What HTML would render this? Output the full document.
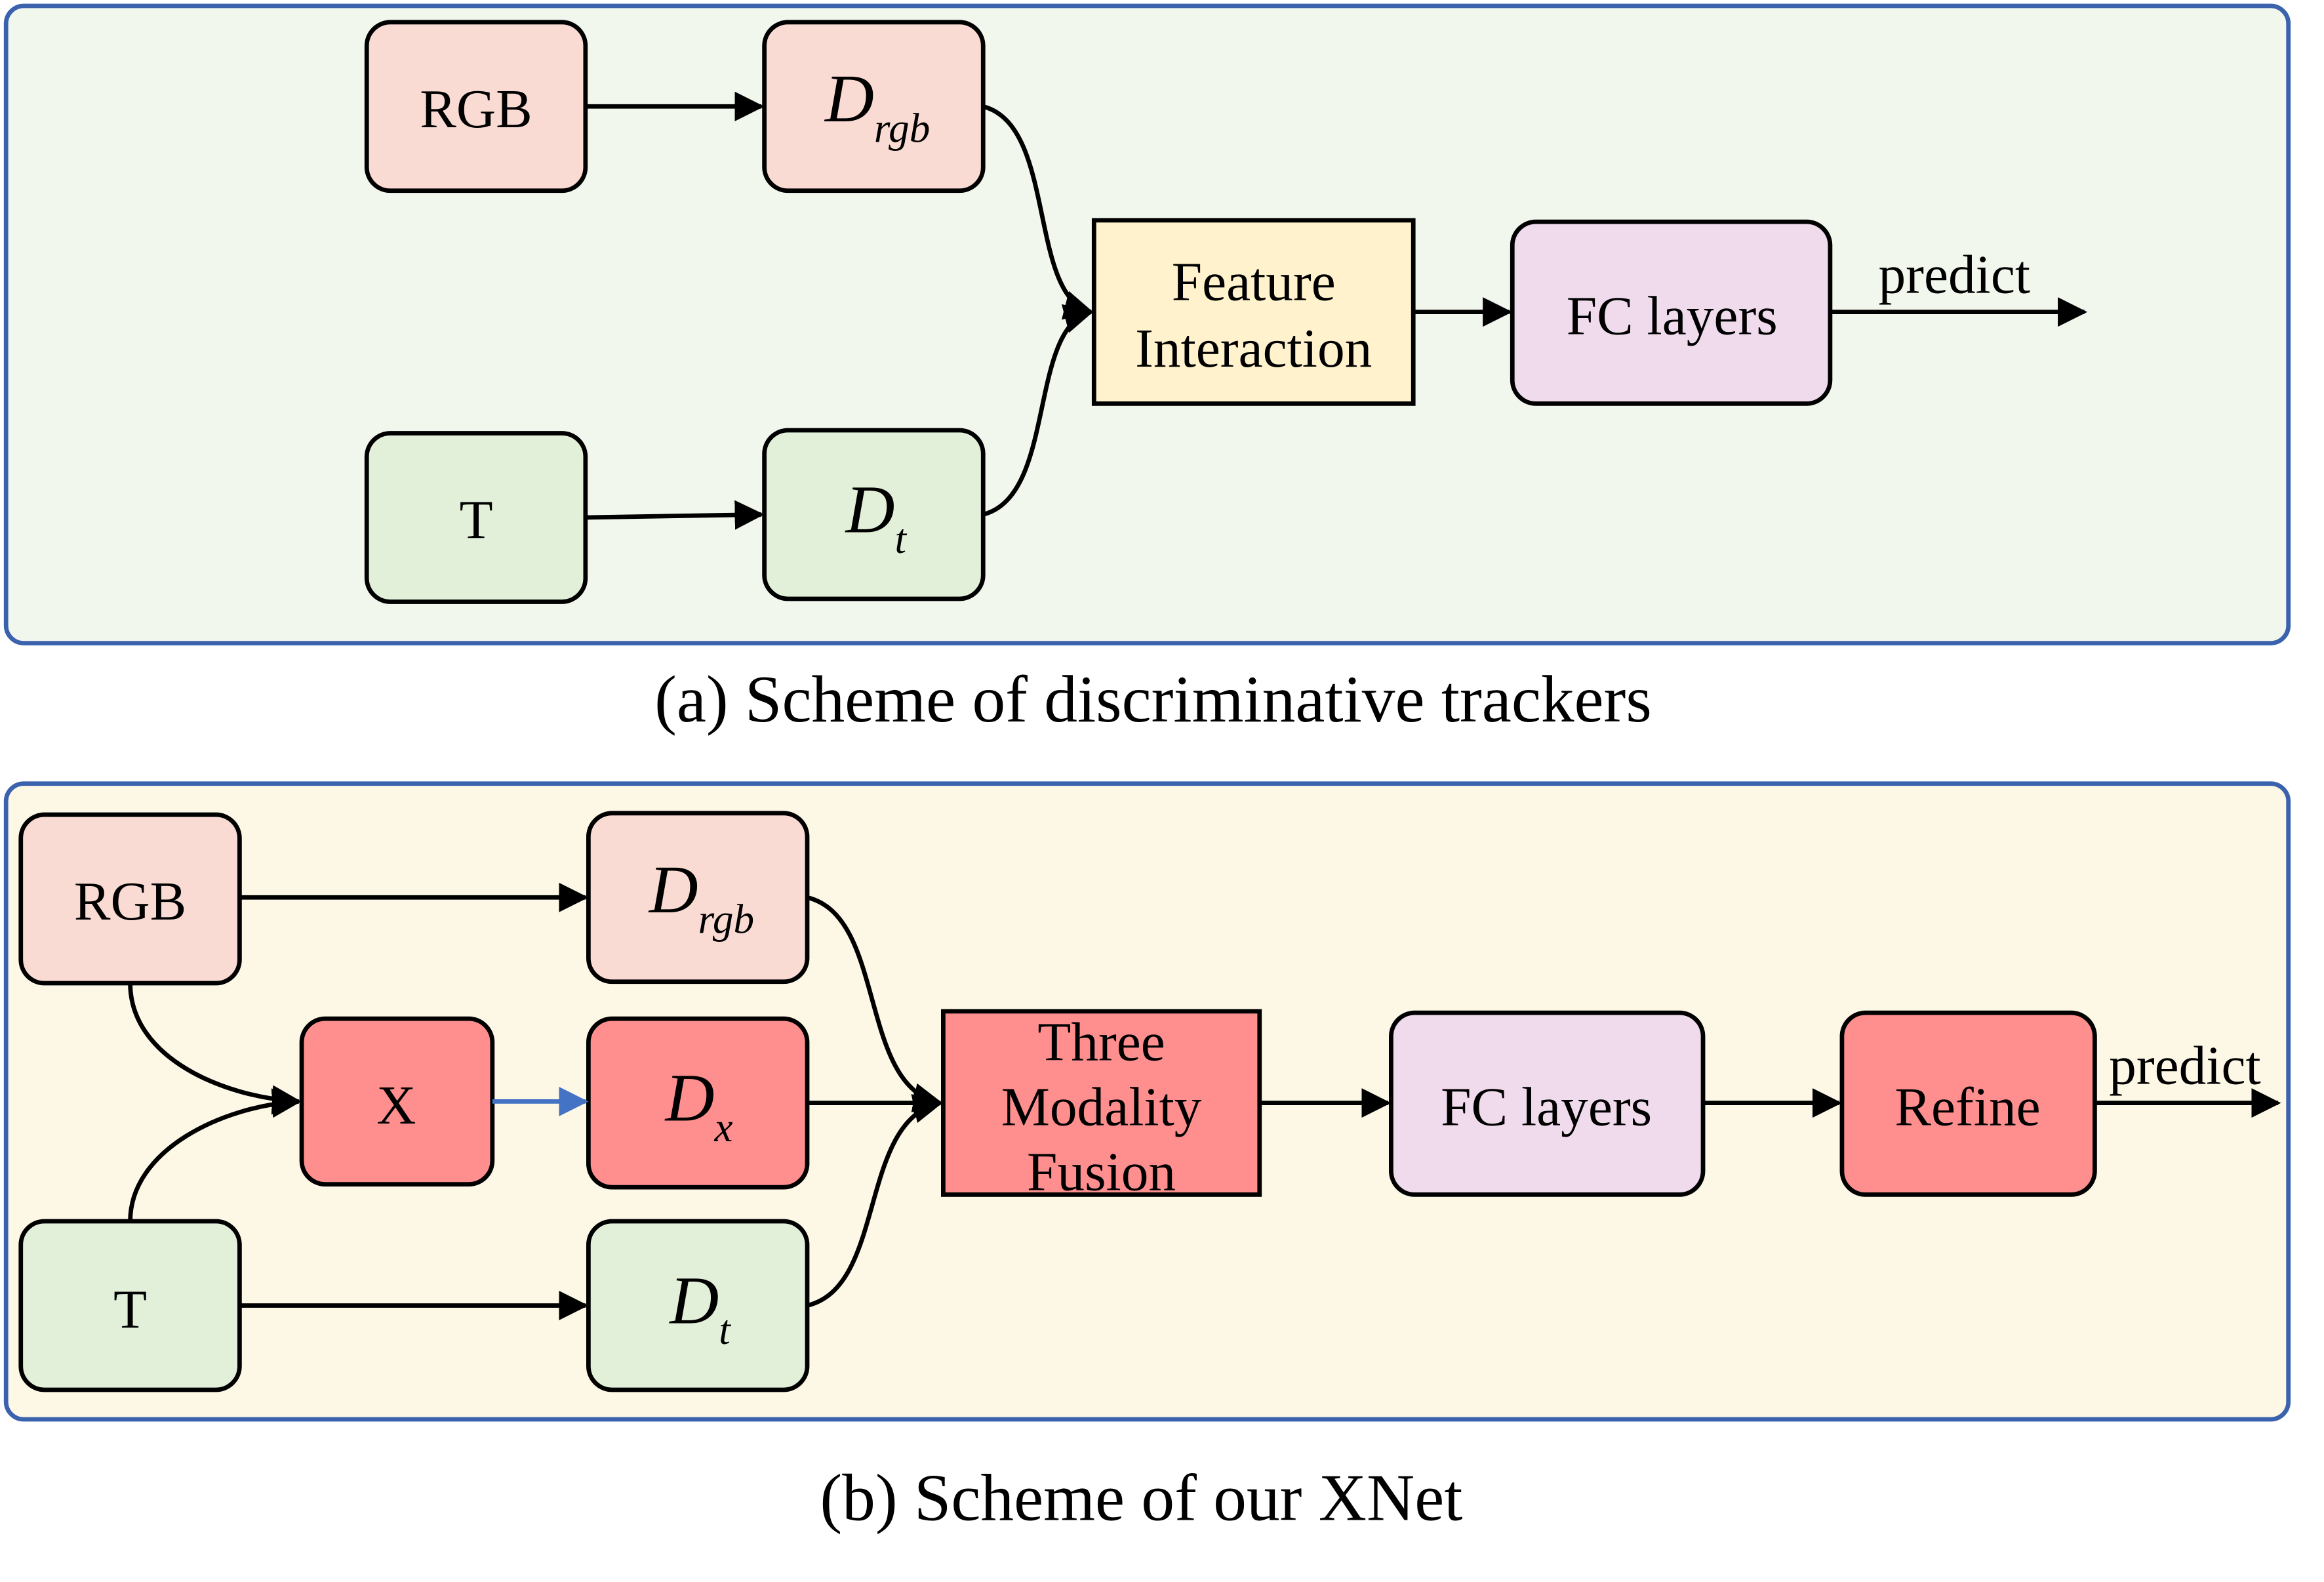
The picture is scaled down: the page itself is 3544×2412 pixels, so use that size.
<!DOCTYPE html>
<html><head><meta charset="utf-8"><style>
html,body{margin:0;padding:0;background:#fff}
svg{display:block}
text{font-family:"Liberation Serif",serif;fill:#000}
</style></head><body>
<svg width="3544" height="2412" viewBox="0 0 1572 1070" xmlns="http://www.w3.org/2000/svg">
<defs>
<marker id="a" viewBox="0 0 10 10" refX="9" refY="5" markerWidth="20" markerHeight="20" markerUnits="userSpaceOnUse" orient="auto"><path d="M0,0 L10,5 L0,10 z" fill="#000"/></marker>
<marker id="ab" viewBox="0 0 10 10" refX="9" refY="5" markerWidth="20" markerHeight="20" markerUnits="userSpaceOnUse" orient="auto"><path d="M0,0 L10,5 L0,10 z" fill="#4472c4"/></marker>
</defs>
<!-- panel a -->
<rect x="4" y="4" width="1544" height="431" rx="12" fill="#f2f7ee" stroke="#3a62ad" stroke-width="3"/>
<g stroke="#000" stroke-width="3">
<rect x="248" y="15" width="148" height="114" rx="16" fill="#fadbd3"/>
<rect x="517" y="15" width="148" height="114" rx="16" fill="#fadbd3"/>
<rect x="248" y="293" width="148" height="114" rx="16" fill="#e2efd9"/>
<rect x="517" y="291" width="148" height="114" rx="16" fill="#e2efd9"/>
<rect x="740" y="149" width="216" height="124" fill="#fff2cc"/>
<rect x="1023" y="150" width="215" height="123" rx="16" fill="#f0dbed"/>
</g>
<g stroke="#000" stroke-width="3" fill="none">
<line x1="396" y1="72" x2="515" y2="72" marker-end="url(#a)"/>
<line x1="396" y1="350" x2="515" y2="348" marker-end="url(#a)"/>
<path d="M665,72 C715,85 695,200 738,211" marker-end="url(#a)"/>
<path d="M665,348 C715,335 695,222 738,211" marker-end="url(#a)"/>
<line x1="956" y1="211" x2="1021" y2="211" marker-end="url(#a)"/>
<line x1="1238" y1="211" x2="1410" y2="211" marker-end="url(#a)"/>
</g>
<g font-size="37" text-anchor="middle">
<text x="322" y="86">RGB</text>
<text x="322" y="364">T</text>
<text x="848" y="203">Feature</text>
<text x="848" y="248">Interaction</text>
<text x="1131" y="226">FC layers</text>
<text x="1322" y="198">predict</text>
</g>
<text x="558" y="82" font-size="46" font-style="italic">D<tspan font-size="28" dy="14">rgb</tspan></text>
<text x="572" y="360" font-size="46" font-style="italic">D<tspan font-size="28" dy="14">t</tspan></text>
<text x="780" y="488" font-size="45" text-anchor="middle">(a) Scheme of discriminative trackers</text>

<!-- panel b -->
<rect x="4" y="530" width="1544" height="430" rx="12" fill="#fdf8e6" stroke="#3a62ad" stroke-width="3"/>
<g stroke="#000" stroke-width="3">
<rect x="14" y="551" width="148" height="114" rx="16" fill="#fadbd3"/>
<rect x="398" y="550" width="148" height="114" rx="16" fill="#fadbd3"/>
<rect x="204" y="689" width="129" height="112" rx="16" fill="#ff8f8f"/>
<rect x="398" y="689" width="148" height="114" rx="16" fill="#ff8f8f"/>
<rect x="14" y="826" width="148" height="114" rx="16" fill="#e2efd9"/>
<rect x="398" y="826" width="148" height="114" rx="16" fill="#e2efd9"/>
<rect x="638" y="684" width="214" height="124" fill="#ff8f8f"/>
<rect x="941" y="685" width="211" height="123" rx="16" fill="#f0dbed"/>
<rect x="1246" y="685" width="171" height="123" rx="16" fill="#ff8f8f"/>
</g>
<g stroke="#000" stroke-width="3" fill="none">
<line x1="162" y1="607" x2="396" y2="607" marker-end="url(#a)"/>
<line x1="162" y1="883" x2="396" y2="883" marker-end="url(#a)"/>
<path d="M88,665 C88,715 150,742 202,745" marker-end="url(#a)"/>
<path d="M88,826 C88,778 150,748 202,745" marker-end="url(#a)"/>
<path d="M546,607 C600,620 580,735 636,746" marker-end="url(#a)"/>
<line x1="546" y1="746" x2="636" y2="746" marker-end="url(#a)"/>
<path d="M546,883 C600,870 580,758 636,746" marker-end="url(#a)"/>
<line x1="852" y1="746" x2="939" y2="746" marker-end="url(#a)"/>
<line x1="1152" y1="746" x2="1244" y2="746" marker-end="url(#a)"/>
<line x1="1417" y1="746" x2="1541" y2="746" marker-end="url(#a)"/>
</g>
<line x1="333" y1="745" x2="396" y2="745" stroke="#4472c4" stroke-width="3" marker-end="url(#ab)"/>
<g font-size="37" text-anchor="middle">
<text x="88" y="622">RGB</text>
<text x="268" y="760">X</text>
<text x="88" y="898">T</text>
<text x="745" y="717">Three</text>
<text x="745" y="761">Modality</text>
<text x="745" y="805">Fusion</text>
<text x="1046" y="761">FC layers</text>
<text x="1331" y="761">Refine</text>
<text x="1478" y="733">predict</text>
</g>
<text x="439" y="617" font-size="46" font-style="italic">D<tspan font-size="28" dy="14">rgb</tspan></text>
<text x="450" y="758" font-size="46" font-style="italic">D<tspan font-size="28" dy="14">x</tspan></text>
<text x="453" y="895" font-size="46" font-style="italic">D<tspan font-size="28" dy="14">t</tspan></text>
<text x="772" y="1028" font-size="45" text-anchor="middle">(b) Scheme of our XNet</text>
</svg>
</body></html>
